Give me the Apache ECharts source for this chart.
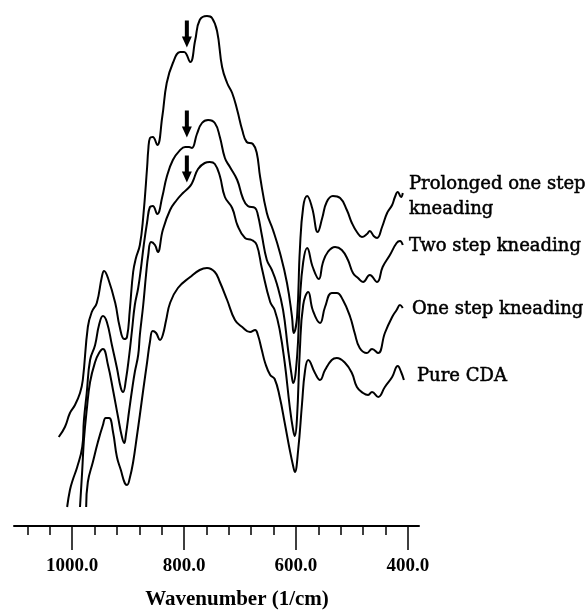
<!DOCTYPE html>
<html>
<head>
<meta charset="utf-8">
<title>IR spectra of CDA kneading</title>
<script src="https://cdn.jsdelivr.net/npm/echarts@6/dist/echarts.min.js"></script>
<style>
  html, body { margin: 0; padding: 0; background: #fff; }
  #chart { width: 586px; height: 612px; }
</style>
</head>
<body>
<div id="chart"></div>
<script>
// [wavenumber (1/cm), relative signal], curves are offset vertically
const prolonged = [
  [1024, 89], [1013, 99], [1004, 113], [995, 121], [986, 133], [981, 146], [972, 199], [965, 214],
  [956, 223], [947, 249], [943, 255], [936, 248], [923, 223], [915, 199], [907, 187], [902, 189],
  [897, 216], [891, 254], [886, 268], [879, 281], [873, 309], [866, 359], [864, 376], [861, 388],
  [856, 389], [848, 381], [839, 409], [831, 443], [820, 463], [807, 474], [800, 474], [789, 464],
  [780, 486], [772, 506], [759, 510], [750, 508], [741, 495], [732, 459], [723, 443], [714, 433],
  [705, 416], [696, 396], [688, 384], [677, 382], [670, 373], [664, 349], [652, 313], [641, 296],
  [629, 274], [616, 243], [607, 209], [604, 193], [598, 209], [593, 276], [587, 319], [580, 330],
  [571, 318], [561, 294], [553, 308], [545, 324], [534, 330], [521, 328], [509, 316], [500, 303],
  [491, 294], [482, 289], [473, 292], [468, 295], [461, 290], [455, 288], [446, 299], [437, 313],
  [428, 321], [423, 329], [418, 334], [412, 329], [409, 333]
]
const twoStep = [
  [1009, 19], [1004, 36], [999, 46], [991, 59], [982, 79], [979, 106], [974, 133], [968, 166],
  [959, 181], [952, 201], [945, 210], [938, 204], [929, 181], [920, 158], [913, 138], [909, 134],
  [904, 146], [898, 171], [893, 196], [888, 221], [882, 238], [877, 258], [872, 281], [866, 304],
  [861, 319], [856, 320], [848, 312], [839, 329], [831, 349], [820, 366], [807, 376], [798, 379],
  [791, 379], [786, 378], [777, 392], [768, 403], [757, 406], [745, 403], [736, 389], [727, 368],
  [718, 359], [705, 346], [695, 328], [686, 320], [673, 318], [668, 311], [661, 291], [652, 266],
  [643, 256], [634, 242], [623, 216], [614, 176], [607, 148], [605, 143], [598, 169], [593, 226],
  [587, 264], [580, 278], [570, 259], [559, 247], [552, 263], [543, 274], [530, 279], [518, 276],
  [507, 266], [498, 253], [489, 248], [480, 244], [468, 251], [455, 244], [445, 259], [432, 271],
  [420, 283], [414, 285], [409, 281]
]
const oneStep = [
  [986, 19], [982, 56], [979, 86], [974, 116], [968, 144], [959, 164], [952, 173], [945, 177],
  [936, 161], [927, 136], [918, 109], [911, 89], [907, 83], [904, 91], [898, 116], [893, 136],
  [888, 154], [882, 171], [879, 191], [873, 221], [868, 251], [864, 271], [859, 284], [852, 281],
  [847, 274], [838, 296], [825, 316], [813, 326], [802, 333], [789, 340], [784, 345], [775, 357],
  [763, 363], [754, 364], [745, 362], [736, 350], [727, 329], [714, 318], [704, 300], [691, 288],
  [679, 286], [670, 281], [661, 258], [646, 224], [638, 216], [629, 196], [620, 163], [611, 119],
  [605, 96], [602, 90], [598, 109], [593, 176], [587, 221], [578, 234], [570, 216], [557, 203],
  [548, 219], [536, 233], [527, 233], [516, 226], [503, 209], [495, 193], [486, 178], [473, 173],
  [464, 177], [453, 173], [441, 193], [428, 209], [420, 216], [414, 221], [409, 218]
]
const pureCDA = [
  [975, 19], [972, 44], [963, 64], [954, 84], [945, 101], [940, 108], [934, 108], [927, 94],
  [920, 69], [913, 56], [906, 43], [902, 41], [897, 48], [891, 64], [884, 91], [879, 111],
  [873, 136], [866, 164], [861, 184], [856, 195], [850, 193], [843, 186], [838, 191], [832, 206],
  [825, 223], [811, 238], [789, 249], [772, 256], [759, 258], [745, 254], [736, 244], [723, 226],
  [709, 206], [696, 199], [682, 194], [673, 196], [668, 191], [661, 176], [655, 163], [646, 151],
  [638, 147], [629, 129], [620, 103], [611, 76], [605, 60], [602, 54], [596, 76], [589, 123],
  [584, 154], [578, 166], [566, 153], [557, 146], [548, 156], [536, 166], [527, 168], [512, 163],
  [500, 153], [491, 139], [480, 133], [471, 131], [464, 134], [453, 129], [441, 139], [428, 149],
  [418, 160], [412, 154], [407, 146]
]

const curveNames = ['Prolonged one step\nkneading', 'Two step kneading', 'One step kneading', 'Pure CDA']
// arrows marking the ~795 1/cm band (centre of each arrow)
const arrowMarks = [[795, 492], [795, 402], [795, 357]]

const minorTicks = [400, 440, 480, 520, 560, 600, 640, 680, 720, 760, 800, 840, 880, 920, 960, 1000, 1040, 1080]
const majorTicks = [400, 600, 800, 1000]

const axisMin = 380
const axisMax = 1104

const arrowPath = 'path://M3,0L7,0L7,16L10,16L5,27L0,16L3,16Z'

const chart = echarts.init(document.getElementById('chart'))

const makeSeries = (name, data, arrow) => {
  const s = {
    name,
    type: 'line',
    data,
    smooth: 0.45,
    symbol: 'none',
    silent: true,
    lineStyle: { color: '#000', width: 2 },
  }
  if (arrow) {
    s.markPoint = {
      symbol: arrowPath,
      symbolSize: [10, 27],
      itemStyle: { color: '#000' },
      label: { show: false },
      data: [{ coord: arrow }],
    }
  }
  return s
}

const labelFont = '"DejaVu Serif", serif'
// scanned type is a bit heavier than the plain face, thicken slightly
const labelStyle = text => ({
  text, fill: '#000', stroke: '#000', lineWidth: 0.5,
  fontFamily: labelFont, fontSize: 18, lineHeight: 25, verticalAlign: 'middle',
})

chart.setOption({
  animation: false,
  backgroundColor: '#fff',
  grid: { left: 14, width: 405, top: 0, height: 526 },
  xAxis: [
    {
      type: 'value',
      inverse: true,
      min: axisMin,
      max: axisMax,
      position: 'bottom',
      axisLine: { show: true, lineStyle: { color: '#000', width: 2 } },
      axisTick: { show: true, customValues: minorTicks, length: 9, lineStyle: { color: '#000', width: 1.5 } },
      axisLabel: { show: false },
      splitLine: { show: false },
    },
    {
      type: 'value',
      inverse: true,
      min: axisMin,
      max: axisMax,
      position: 'bottom',
      axisLine: { show: false },
      axisTick: { show: true, customValues: majorTicks, length: 24, lineStyle: { color: '#000', width: 1.5 } },
      axisLabel: {
        show: true,
        customValues: majorTicks,
        margin: 31,
        formatter: v => v.toFixed(1),
        color: '#000',
        fontFamily: '"Liberation Serif", serif',
        fontWeight: 'bold',
        fontSize: 19,
        lineHeight: 19,
      },
      splitLine: { show: false },
    },
  ],
  yAxis: { type: 'value', show: false, min: 0, max: 526 },
  series: [
    makeSeries(curveNames[0], prolonged, arrowMarks[0]),
    makeSeries(curveNames[1], twoStep, arrowMarks[1]),
    makeSeries(curveNames[2], oneStep, arrowMarks[2]),
    makeSeries(curveNames[3], pureCDA, null),
  ],
  graphic: [
    { type: 'text', x: 409, y: 197, style: labelStyle(curveNames[0]) },
    { type: 'text', x: 409, y: 246, style: labelStyle(curveNames[1]) },
    { type: 'text', x: 412, y: 309, style: labelStyle(curveNames[2]) },
    { type: 'text', x: 417, y: 376, style: labelStyle(curveNames[3]) },
    {
      type: 'text', x: 237, y: 600,
      style: {
        text: 'Wavenumber (1/cm)', fill: '#000', fontFamily: '"Liberation Serif", serif',
        fontWeight: 'bold', fontSize: 21, align: 'center', verticalAlign: 'middle',
      },
    },
  ],
})

window.addEventListener('resize', () => chart.resize())
</script>
</body>
</html>
